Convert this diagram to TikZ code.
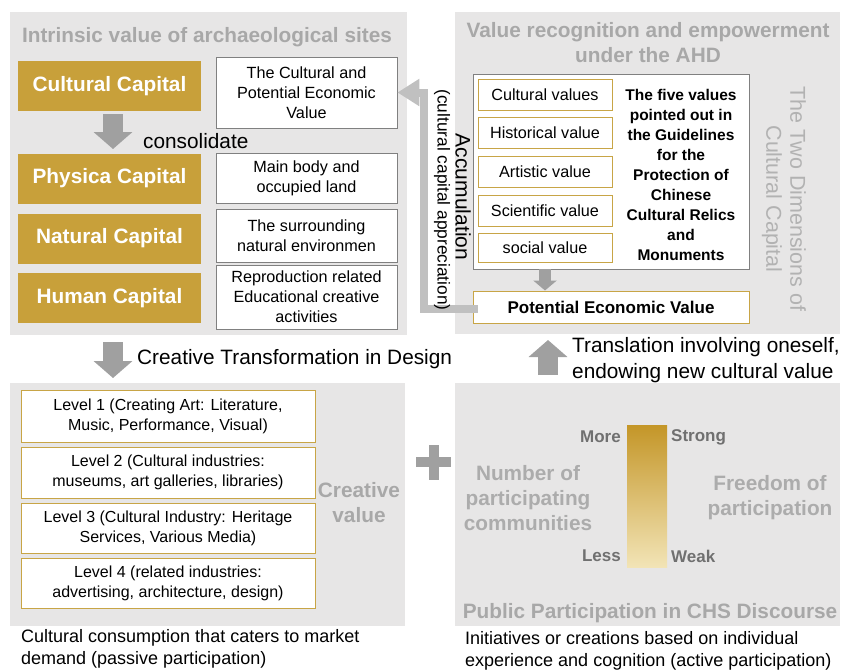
\documentclass[tikz,border=0pt]{standalone}
\usepackage{fontspec}
\setmainfont{Liberation Sans}
\usetikzlibrary{arrows.meta}
\definecolor{panelgray}{RGB}{231,230,230}
\definecolor{gold}{RGB}{200,160,58}
\definecolor{goldline}{RGB}{200,165,70}
\definecolor{titlegray}{RGB}{168,168,168}
\definecolor{lightgray2}{RGB}{172,172,172}
\definecolor{rotgray}{RGB}{178,178,178}
\definecolor{arrowgray}{RGB}{160,160,160}
\definecolor{accgray}{RGB}{192,192,192}
\definecolor{boxline}{RGB}{128,128,128}
\definecolor{darkgray2}{RGB}{112,112,112}
\definecolor{gradtop}{RGB}{196,150,40}
\definecolor{gradbot}{RGB}{242,228,182}
\newcommand{\fsz}[2]{\fontsize{#1}{#2}\selectfont}
\begin{document}
\begin{tikzpicture}[x=1pt,y=-1pt,
  panel/.style={fill=panelgray,draw=none},
  ttl/.style={font=\bfseries\fsz{20.8}{25},text=titlegray,align=center,inner sep=0},
  lttl/.style={font=\bfseries\fsz{20.8}{25},text=lightgray2,align=center,inner sep=0},
  gbox/.style={fill=gold,draw=none,minimum width=183,minimum height=50,text=white,font=\bfseries\fsz{20.8}{25},inner sep=0},
  wbox/.style={draw=boxline,fill=white,line width=0.8pt,minimum width=181,align=center,font=\fsz{16.2}{20},inner sep=0},
  vbox/.style={draw=goldline,fill=white,line width=1pt,minimum width=134,minimum height=31,font=\fsz{16.2}{20},inner sep=0},
  lvbox/.style={draw=goldline,fill=white,line width=1pt,minimum width=294,align=center,font=\fsz{16}{20},inner sep=0},
  plaintxt/.style={font=\fsz{20.8}{26},inner sep=0,align=left},
  capt/.style={font=\fsz{18}{22},inner sep=0,align=left},
  scl/.style={font=\bfseries\fsz{17}{20},text=darkgray2,inner sep=0},
  blockarrow/.style={arrowgray,line width=20pt,-{Triangle[width=38pt,length=17pt]}},
  acc/.style={accgray,line width=8pt,line join=miter,-{Triangle[width=26pt,length=22pt]}}
]
\useasboundingbox (0,0) rectangle (842,670);

% panels
\fill[panel] (10,12) rectangle (407,335);
\fill[panel] (455,12) rectangle (840,334);
\fill[panel] (10,383) rectangle (405,626);
\fill[panel] (455,383) rectangle (840,626);

% ---------- top left ----------
\node[ttl] (t1) at (207,37) {Intrinsic value of archaeological sites};
\node[gbox] (cc) at (109.5,86) {Cultural Capital};
\node[gbox] (pc) at (109.5,178.5) {Physica Capital};
\node[gbox] (nc) at (109.5,238.5) {Natural Capital};
\node[gbox] (hc) at (109.5,298) {Human Capital};
\node[wbox,minimum height=71] (b1) at (306.5,92.5) {The Cultural and\\Potential Economic\\Value};
\node[wbox,minimum height=50] (b2) at (306.5,178) {Main body and\\occupied land};
\node[wbox,minimum height=53] (b3) at (306.5,235.5) {The surrounding\\natural environmen};
\node[wbox,minimum height=64] (b4) at (306.5,297) {Reproduction related\\Educational creative\\activities};
\coordinate (a1s) at (113,114);
\coordinate (a1e) at (113,149);
\draw[blockarrow] (a1s) -- (a1e);
\node[plaintxt,anchor=west] (cons) at (143,141) {consolidate};

% ---------- top right ----------
\node[ttl] (t2) at (648,42.5) {Value recognition and empowerment\\under the AHD};
\node[draw=boxline,fill=white,line width=0.8pt,minimum width=276,minimum height=195,inner sep=0] (cont) at (611,171.5) {};
\node[vbox] (v1) at (545,94.5) {Cultural values};
\node[vbox] (v2) at (545,132.5) {Historical value};
\node[vbox] (v3) at (545,171.5) {Artistic value};
\node[vbox] (v4) at (545,210.5) {Scientific value};
\node[vbox,minimum height=29] (v5) at (545,247.5) {social value};
\node[font=\bfseries\fsz{15.5}{20},align=center,inner sep=0] (five) at (681,174.5)
  {The five values\\pointed out in\\the Guidelines\\for the\\Protection of\\Chinese\\Cultural Relics\\and\\Monuments};
\node[draw=goldline,fill=white,line width=1pt,minimum width=276,minimum height=32,font=\bfseries\fsz{17}{20},inner sep=0] (pev) at (611,307) {Potential Economic Value};
\draw[arrowgray,line width=12pt,-{Triangle[width=23pt,length=10pt]}] (cont.south -| v5) -- (pev.north -| v5);
\node[rotate=-90,font=\fsz{21.5}{25},text=rotgray,inner sep=0] (dim1) at (798,199) {The Two Dimensions of};
\node[rotate=-90,font=\fsz{21.5}{25},text=rotgray,inner sep=0] (dim2) at (772,199) {Cultural Capital};

% accumulation arrow
\coordinate (acc1) at (424,309);
\draw[acc] ([xshift=5pt]pev.west |- acc1) -- (acc1) -- (acc1 |- b1.east) -- (b1.east);
\node[rotate=-90,font=\fsz{21}{25},inner sep=0] (accu) at (463,197) {Accumulation};
\node[rotate=-90,font=\fsz{17.3}{20},inner sep=0] (appr) at (442,200) {(cultural capital appreciation)};

% ---------- bottom left ----------
\coordinate (a2s) at (113,342);
\coordinate (a2e) at (113,378);
\draw[blockarrow] (a2s) -- (a2e);
\node[plaintxt,anchor=west] (ctd) at (137,359) {Creative Transformation in Design};
\node[lvbox,minimum height=52] (l1) at (168,416) {Level 1 (Creating Art: Literature,\\Music, Performance, Visual)};
\node[lvbox,minimum height=51] (l2) at (168,472.5) {Level 2 (Cultural industries:\\museums, art galleries, libraries)};
\node[lvbox,minimum height=50] (l3) at (168,528) {Level 3 (Cultural Industry: Heritage\\Services, Various Media)};
\node[lvbox,minimum height=50] (l4) at (168,583) {Level 4 (related industries:\\advertising, architecture, design)};
\node[ttl] (cv) at (359,502.5) {Creative\\value};
\node[capt,anchor=west] (capl) at (21,649) {Cultural consumption that caters to market\\demand (passive participation)};

% plus
\fill[arrowgray] (416,457) rectangle (451,467);
\fill[arrowgray] (428.5,444.5) rectangle (438.5,479.5);

% ---------- bottom right ----------
\coordinate (a3s) at (548,375);
\coordinate (a3e) at (548,340);
\draw[blockarrow] (a3s) -- (a3e);
\node[plaintxt,anchor=west] (trans) at (572,360) {Translation involving oneself,\\endowing new cultural value};
\shade[top color=gradtop,bottom color=gradbot] (627,425) rectangle (667,567);
\node[scl,anchor=east] (more) at (621,437) {More};
\node[scl,anchor=east] (less) at (621,556) {Less};
\node[scl,anchor=west] (strong) at (671,437) {Strong};
\node[scl,anchor=west] (weak) at (671,556) {Weak};
\node[lttl] (num) at (528,498) {Number of\\participating\\communities};
\node[lttl] (free) at (770,497.5) {Freedom of\\participation};
\node[ttl] (pub) at (650,613) {Public Participation in CHS Discourse};
\node[capt,anchor=west] (capr) at (465,650.5) {Initiatives or creations based on individual\\experience and cognition (active participation)};
\end{tikzpicture}
\end{document}
